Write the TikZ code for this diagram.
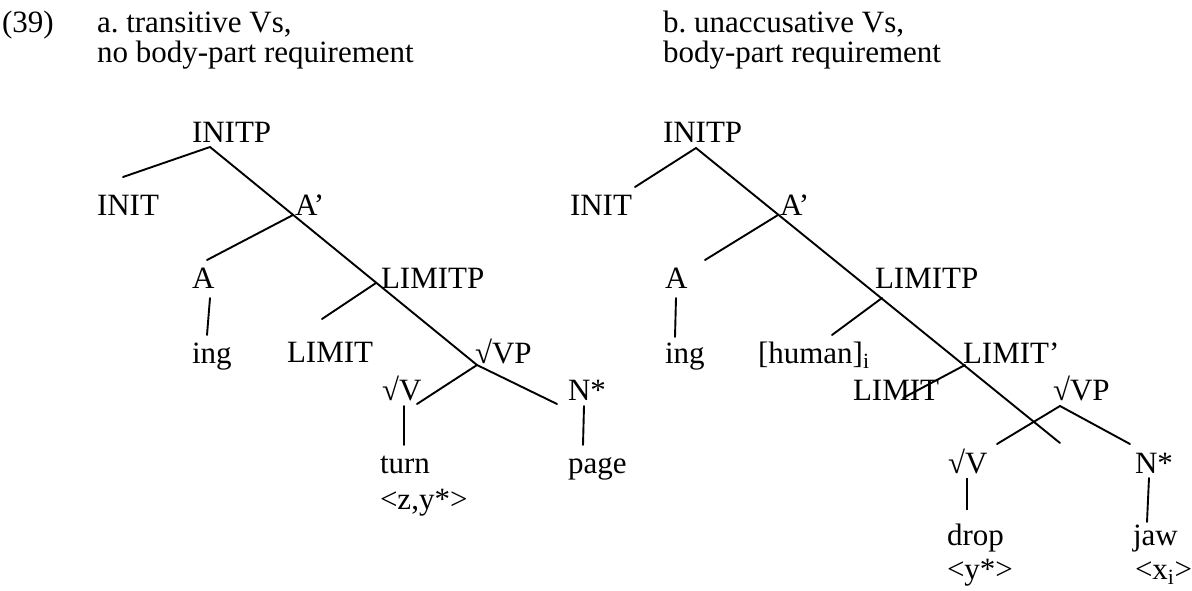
\documentclass[tikz,border=0pt]{standalone}
\usepackage{fontspec}
\setmainfont{Liberation Serif}
\frenchspacing
\begin{document}
\begin{tikzpicture}[x=1pt,y=-1pt,
  font=\fontsize{31}{30}\selectfont,
  lbl/.style={anchor=base west,inner sep=0pt,outer sep=0pt},
  br/.style={line width=1.9pt,line cap=round},
  brthick/.style={line width=2.6pt}]
\path[use as bounding box] (0,0) rectangle (1192,590);

% heading
\node[lbl] (num) at (2,32) {(39)};
\node[lbl] (ha1) at (97,32) {a. transitive Vs,};
\node[lbl] (ha2) at (97,62) {no body-part requirement};
\node[lbl] (hb1) at (663,32) {b. unaccusative Vs,};
\node[lbl] (hb2) at (663,62) {body-part requirement};

% ---- tree a: labels
\node[lbl] (aInitP)  at (192,142) {INITP};
\node[lbl] (aInit)   at (97,215)  {INIT};
\node[lbl] (aAbar)   at (295,215) {A’};
\node[lbl] (aA)      at (192,288) {A};
\node[lbl] (aLimP)   at (381,288) {LIMITP};
\node[lbl] (aIng)    at (192,363) {ing};
\node[lbl] (aLim)    at (287,362) {LIMIT};
\node[lbl] (aVP)     at (475,363) {√VP};
\node[lbl] (aV)      at (382,400) {√V};
\node[lbl] (aN)      at (568,400) {N*};
\node[lbl] (aTurn)   at (380,473) {turn};
\node[lbl] (aPage)   at (568,473) {page};
\node[lbl] (aArgs)   at (380,509) {<z,y*>};

% ---- tree a: branch points and ends
\coordinate (aTop)   at (210,147);
\coordinate (aInitE) at (123,177);
\coordinate (aAbarJ) at (293,215);
\coordinate (aAE)    at (207,260);
\coordinate (aIngT)  at (210,298);
\coordinate (aIngB)  at (207,335);
\coordinate (aLimJ)  at (376,283);
\coordinate (aLimE)  at (322,319);
\coordinate (aVPJ)   at (477,365);
\coordinate (aVE)    at (417,404);
\coordinate (aNE)    at (557,404);
\coordinate (aTurnT) at (404,406);
\coordinate (aTurnB) at (404,445);
\coordinate (aPageT) at (584,406);
\coordinate (aPageB) at (583,445);

\draw[br] (aInitE) -- (aTop) -- (aVPJ) -- (aNE);
\draw[br] (aAbarJ) -- (aAE);
\draw[br] (aIngT) -- (aIngB);
\draw[br] (aLimJ) -- (aLimE);
\draw[br] (aVPJ) -- (aVE);
\draw[br] (aTurnT) -- (aTurnB);
\draw[br] (aPageT) -- (aPageB);

% ---- tree b: labels
\node[lbl] (bInitP)  at (663,142) {INITP};
\node[lbl] (bInit)   at (570,215) {INIT};
\node[lbl] (bAbar)   at (780,215) {A’};
\node[lbl] (bA)      at (665,288) {A};
\node[lbl] (bLimP)   at (875,288) {LIMITP};
\node[lbl] (bIng)    at (665,363) {ing};
\node[lbl] (bHum)    at (758,363) {[human]\textsubscript{i}};
\node[lbl] (bLimBar) at (963,363) {LIMIT’};
\node[lbl] (bLim)    at (853,400) {LIMIT};
\node[lbl] (bVP)     at (1053,400) {√VP};
\node[lbl] (bV)      at (948,473) {√V};
\node[lbl] (bN)      at (1135,473) {N*};
\node[lbl] (bDrop)   at (947,545) {drop};
\node[lbl] (bJaw)    at (1133,545) {jaw};
\node[lbl] (bArgY)   at (947,579) {<y*>};
\node[lbl] (bArgX)   at (1135,579) {<x\textsubscript{i}>};

% ---- tree b: branch points and ends
\coordinate (bTop)    at (696,148);
\coordinate (bInitE)  at (635,187);
\coordinate (bAbarJ)  at (778,215);
\coordinate (bAE)     at (705,260);
\coordinate (bIngT)   at (676,298);
\coordinate (bIngB)   at (675,337);
\coordinate (bLimPJ)  at (882,298);
\coordinate (bHumE)   at (832,335);
\coordinate (bLimBJ)  at (965,365);
\coordinate (bLimE)   at (903,398);
\coordinate (bMainE)  at (1060,443);
\coordinate (bVPJ)    at (1060,406);
\coordinate (bVE)     at (997,444);
\coordinate (bNE)     at (1130,444);
\coordinate (bDropT)  at (967,478);
\coordinate (bDropB)  at (967,510);
\coordinate (bJawT)   at (1149,478);
\coordinate (bJawB)   at (1147,522);

\draw[br] (bInitE) -- (bTop) -- (bMainE);
\draw[br] (bAbarJ) -- (bAE);
\draw[br] (bIngT) -- (bIngB);
\draw[br] (bLimPJ) -- (bHumE);
\draw[br] (bLimBJ) -- (bLimE);
\draw[br] (bVE) -- (bVPJ) -- (bNE);
\draw[brthick] (bDropT) -- (bDropB);
\draw[br] (bJawT) -- (bJawB);
\end{tikzpicture}
\end{document}
